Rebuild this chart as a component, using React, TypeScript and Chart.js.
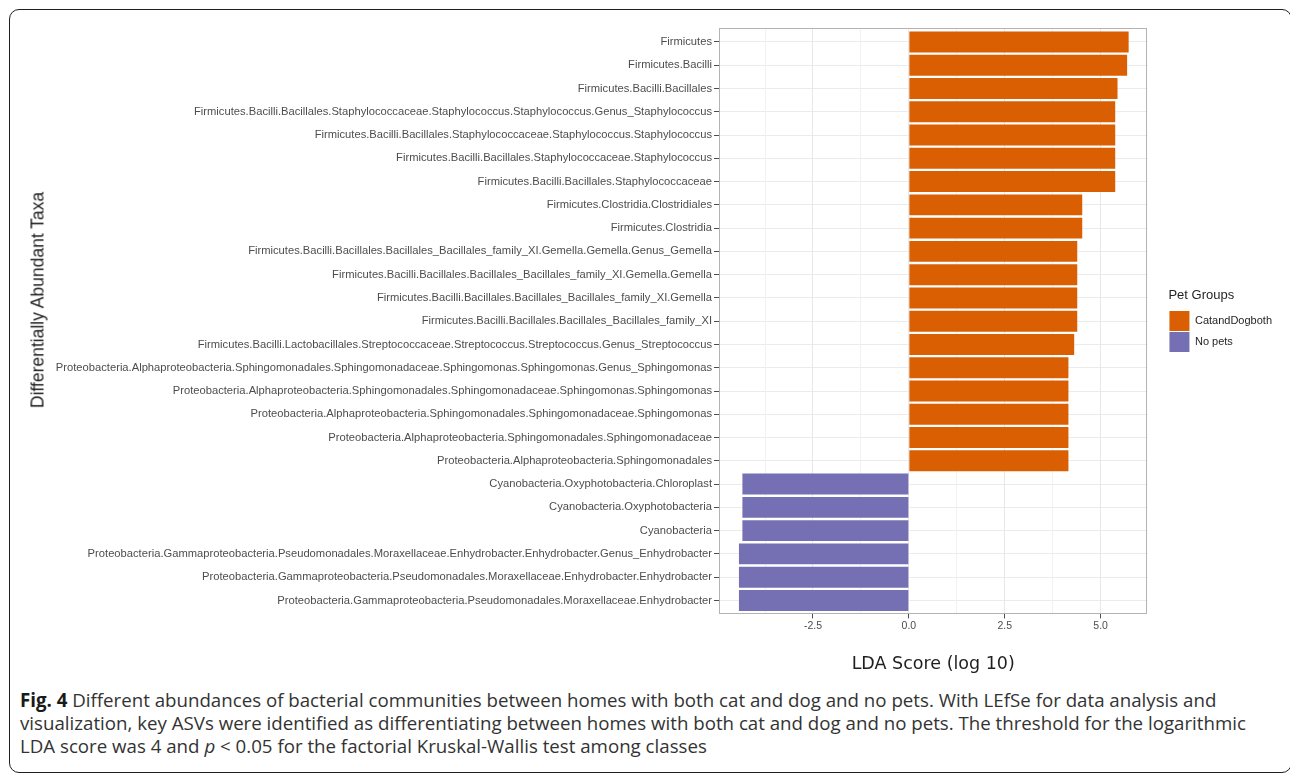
import React, { useEffect, useRef } from 'react';
import { Chart, registerables, layouts } from 'chart.js';

Chart.register(...registerables);

// Taxa, top to bottom
const taxa = [
  'Firmicutes',
  'Firmicutes.Bacilli',
  'Firmicutes.Bacilli.Bacillales',
  'Firmicutes.Bacilli.Bacillales.Staphylococcaceae.Staphylococcus.Staphylococcus.Genus_Staphylococcus',
  'Firmicutes.Bacilli.Bacillales.Staphylococcaceae.Staphylococcus.Staphylococcus',
  'Firmicutes.Bacilli.Bacillales.Staphylococcaceae.Staphylococcus',
  'Firmicutes.Bacilli.Bacillales.Staphylococcaceae',
  'Firmicutes.Clostridia.Clostridiales',
  'Firmicutes.Clostridia',
  'Firmicutes.Bacilli.Bacillales.Bacillales_Bacillales_family_XI.Gemella.Gemella.Genus_Gemella',
  'Firmicutes.Bacilli.Bacillales.Bacillales_Bacillales_family_XI.Gemella.Gemella',
  'Firmicutes.Bacilli.Bacillales.Bacillales_Bacillales_family_XI.Gemella',
  'Firmicutes.Bacilli.Bacillales.Bacillales_Bacillales_family_XI',
  'Firmicutes.Bacilli.Lactobacillales.Streptococcaceae.Streptococcus.Streptococcus.Genus_Streptococcus',
  'Proteobacteria.Alphaproteobacteria.Sphingomonadales.Sphingomonadaceae.Sphingomonas.Sphingomonas.Genus_Sphingomonas',
  'Proteobacteria.Alphaproteobacteria.Sphingomonadales.Sphingomonadaceae.Sphingomonas.Sphingomonas',
  'Proteobacteria.Alphaproteobacteria.Sphingomonadales.Sphingomonadaceae.Sphingomonas',
  'Proteobacteria.Alphaproteobacteria.Sphingomonadales.Sphingomonadaceae',
  'Proteobacteria.Alphaproteobacteria.Sphingomonadales',
  'Cyanobacteria.Oxyphotobacteria.Chloroplast',
  'Cyanobacteria.Oxyphotobacteria',
  'Cyanobacteria',
  'Proteobacteria.Gammaproteobacteria.Pseudomonadales.Moraxellaceae.Enhydrobacter.Enhydrobacter.Genus_Enhydrobacter',
  'Proteobacteria.Gammaproteobacteria.Pseudomonadales.Moraxellaceae.Enhydrobacter.Enhydrobacter',
  'Proteobacteria.Gammaproteobacteria.Pseudomonadales.Moraxellaceae.Enhydrobacter',
];

// LDA score (log 10); sign shows which group the taxon is enriched in
const ldaScores = [
  5.73, 5.69, 5.44, 5.38, 5.38, 5.38, 5.38, 4.52, 4.52, 4.39, 4.39, 4.39, 4.39,
  4.31, 4.16, 4.16, 4.16, 4.16, 4.16, -4.34, -4.34, -4.34, -4.43, -4.43, -4.43,
];

const petGroup = [
  'CatandDogboth', 'CatandDogboth', 'CatandDogboth', 'CatandDogboth', 'CatandDogboth',
  'CatandDogboth', 'CatandDogboth', 'CatandDogboth', 'CatandDogboth', 'CatandDogboth',
  'CatandDogboth', 'CatandDogboth', 'CatandDogboth', 'CatandDogboth', 'CatandDogboth',
  'CatandDogboth', 'CatandDogboth', 'CatandDogboth', 'CatandDogboth',
  'No pets', 'No pets', 'No pets', 'No pets', 'No pets', 'No pets',
];

const groupNames = ['CatandDogboth', 'No pets'];
const groupColors = ['#D95F02', '#7570B3'];

const xTickValues = [-3.75, -2.5, -1.25, 0, 1.25, 2.5, 3.75, 5];
const xMajorTicks = [-2.5, 0, 2.5, 5];

const SANS = "'Liberation Sans', Arial, Helvetica, sans-serif";
const Y_AXIS_WIDTH = 711;
const LEGEND_GAP = 21;

// Empty layout box that keeps the legend a little away from the panel
const legendGap = {
  id: 'legendGap',
  beforeInit(chart: any) {
    const box: any = {
      position: 'right',
      weight: 500,
      fullSize: false,
      options: {},
      width: 0,
      height: 0,
      left: 0,
      top: 0,
      right: 0,
      bottom: 0,
      isHorizontal() {
        return false;
      },
      update(_maxWidth: number, maxHeight: number) {
        this.width = LEGEND_GAP;
        this.height = maxHeight;
      },
      draw() {},
    };
    layouts.addBox(chart, box);
  },
};

// Frame around the plotting panel
const panelBorder = {
  id: 'panelBorder',
  afterDatasetsDraw(chart: any) {
    const { ctx, chartArea } = chart;
    ctx.save();
    ctx.strokeStyle = '#b3b3b3';
    ctx.lineWidth = 1;
    ctx.strokeRect(
      Math.round(chartArea.left) + 0.5,
      Math.round(chartArea.top) + 0.5,
      Math.round(chartArea.width) - 1,
      Math.round(chartArea.height) - 1
    );
    ctx.restore();
  },
};

function LdaChart() {
  const canvasRef = useRef<HTMLCanvasElement | null>(null);

  useEffect(() => {
    const canvas = canvasRef.current;
    if (!canvas) return;

    const datasets = groupNames.map((g, gi) => ({
      label: g,
      data: taxa
        .map((_, i) => (petGroup[i] === g ? { x: ldaScores[i], y: i } : null))
        .filter((d) => d !== null),
      backgroundColor: groupColors[gi],
      borderWidth: 0,
      barPercentage: 0.9,
      categoryPercentage: 1,
    }));

    let chart: any = null;
    try {
      chart = new Chart(canvas, {
        type: 'bar',
        data: { datasets: datasets as any },
        plugins: [legendGap, panelBorder],
        options: {
          indexAxis: 'y',
          responsive: false,
          animation: false,
          events: [],
          layout: { padding: { left: 8, top: 28, right: 8, bottom: 0 } },
          scales: {
            y: {
              type: 'linear',
              min: -0.6,
              max: taxa.length - 0.4,
              reverse: true,
              offset: false,
              stacked: true,
              afterBuildTicks: (scale: any) => {
                scale.ticks = taxa.map((_, i) => ({ value: i }));
              },
              afterFit: (scale: any) => {
                scale.width = Y_AXIS_WIDTH;
              },
              border: { display: false },
              grid: {
                offset: false,
                color: '#ebebeb',
                lineWidth: 1,
                drawTicks: true,
                tickLength: 5,
                tickColor: '#4d4d4d',
                tickWidth: 1,
              },
              ticks: {
                autoSkip: false,
                padding: 2,
                color: '#4d4d4d',
                font: { family: SANS, size: 11.2 },
                callback: (v: any) => taxa[Math.round(Number(v))] ?? '',
              },
            },
            x: {
              type: 'linear',
              min: -4.95,
              max: 6.22,
              stacked: true,
              afterBuildTicks: (scale: any) => {
                scale.ticks = xTickValues.map((v) => ({ value: v }));
              },
              border: { display: false },
              grid: {
                color: (c: any) =>
                  xMajorTicks.includes(c.tick?.value) ? '#e8e8e8' : '#f2f2f2',
                lineWidth: 1,
                drawTicks: true,
                tickLength: 4,
                tickColor: (c: any) =>
                  xMajorTicks.includes(c.tick?.value) ? '#4d4d4d' : 'rgba(0,0,0,0)',
                tickWidth: 1,
              },
              ticks: {
                autoSkip: false,
                padding: 1,
                maxRotation: 0,
                color: '#4d4d4d',
                font: { family: SANS, size: 10.5 },
                callback: (v: any) =>
                  xMajorTicks.includes(Number(v)) ? Number(v).toFixed(1) : '',
              },
              title: {
                display: true,
                text: 'LDA Score (log 10)',
                color: '#1f1f1f',
                font: { family: "'DejaVu Sans', Verdana, sans-serif", size: 17.5 },
                padding: { top: 21, bottom: 0 },
              },
            },
          },
          plugins: {
            tooltip: { enabled: false },
            legend: {
              position: 'right',
              align: 'center',
              fullSize: false,
              title: {
                display: true,
                text: 'Pet Groups',
                position: 'start',
                color: '#1f1f1f',
                font: { family: SANS, size: 13 },
                padding: { top: 0, bottom: 5 },
              },
              labels: {
                boxWidth: 20,
                boxHeight: 20,
                padding: 1,
                color: '#1f1f1f',
                font: { family: SANS, size: 11 },
              },
            },
          },
        } as any,
      });
    } catch (e) {
      console.error(e);
    }

    return () => {
      if (chart) chart.destroy();
    };
  }, []);

  return (
    <canvas
      ref={canvasRef}
      width={1290}
      height={675}
      style={{ position: 'absolute', left: 0, top: 0, width: 1290, height: 675 }}
    />
  );
}

export default function App() {
  return (
    <div
      style={{
        position: 'fixed',
        left: 0,
        top: 0,
        width: 1290,
        height: 774,
        overflow: 'hidden',
        background: '#ffffff',
      }}
    >
      <div
        style={{
          position: 'absolute',
          left: 9,
          top: 9,
          width: 1283,
          height: 764,
          boxSizing: 'border-box',
          border: '1.6px solid #1f1f1f',
          borderRadius: 10,
        }}
      />
      <LdaChart />
      <div
        style={{
          position: 'absolute',
          left: 38,
          top: 300,
          transform: 'translate(-50%, -50%) rotate(-90deg)',
          whiteSpace: 'nowrap',
          fontFamily: SANS,
          fontSize: 17.5,
          color: '#1f1f1f',
        }}
      >
        Differentially Abundant Taxa
      </div>
      <div
        style={{
          position: 'absolute',
          left: 20,
          top: 688,
          fontFamily: "'Open Sans', 'Noto Sans', sans-serif",
          fontSize: 18.7,
          lineHeight: '23px',
          color: '#333333',
          whiteSpace: 'nowrap',
        }}
      >
        <b style={{ color: '#1a1a1a' }}>Fig. 4</b> Different abundances of bacterial communities between
        homes with both cat and dog and no pets. With LEfSe for data analysis and
        <br />
        visualization, key ASVs were identified as differentiating between homes with both cat and dog
        and no pets. The threshold for the logarithmic
        <br />
        LDA score was 4 and <i>p</i> &lt; 0.05 for the factorial Kruskal-Wallis test among classes
      </div>
    </div>
  );
}
